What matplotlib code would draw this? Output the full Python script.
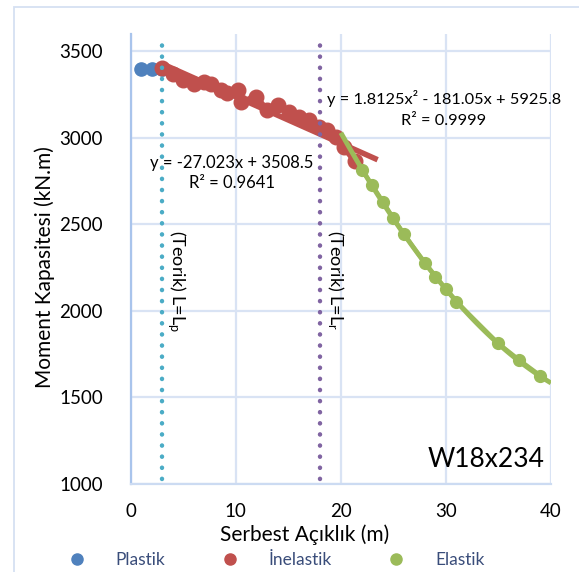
import numpy as np
import matplotlib.pyplot as plt
from matplotlib.lines import Line2D
from matplotlib.patches import Rectangle

plt.rcParams['font.family'] = ['Lato', 'DejaVu Sans']
plt.rcParams['mathtext.fontset'] = 'custom'
plt.rcParams['mathtext.rm'] = 'Lato'
plt.rcParams['mathtext.default'] = 'regular'

# Data
plastik_x = [1, 2, 3]
plastik_y = [3400, 3400, 3400]

inelastik_x = [3, 4, 5, 6, 7, 7.6, 8.6, 9.2, 10.2, 10.5, 11.9, 13, 14, 15.1,
               16, 17, 17.9, 18.7, 19.5, 20.3, 21.3]
inelastik_y = [3403, 3371, 3336, 3313, 3322, 3313, 3278, 3259, 3278, 3207, 3236,
               3159, 3188, 3149, 3120, 3101, 3062, 3043, 3004, 2946, 2869]

elastik_x = [22, 23, 24, 25, 26, 28, 29, 30, 31, 35, 37, 39]
elastik_y = [2815, 2725, 2632, 2535, 2445, 2275, 2198, 2127, 2054, 1812, 1716, 1626]

# trendlines (coefficients as printed on the chart)
lin_coef = [-27.023, 3508.5]
lin_r2 = 0.9641
lin_range = [3, 23.5]
quad_coef = [1.8125, -181.05, 5925.8]
quad_r2 = 0.9999
quad_range = [20, 40]

# theoretical lengths
Lp = 3
Lr = 18

c_blue = '#4F81BD'
c_red = '#C0504D'
c_green = '#9BBB59'
c_grid = '#D9E3F4'

fig = plt.figure(figsize=(5.79, 5.72), dpi=100)
ax = fig.add_axes([130.7/579, 1-484/572, (551-130.7)/579, (484-34)/572])

# outer chart border
fig.add_artist(Rectangle((14/579, -0.1), 2, 1.1 - 6.5/572, transform=fig.transFigure,
                         fill=False, ec='#D5E0F2', lw=1.3))

ax.plot(plastik_x, plastik_y, 'o', color=c_blue, ms=9.5, zorder=3)

ax.plot(inelastik_x, inelastik_y, '-o', color=c_red, ms=10.5, lw=4.5, zorder=3)
xl = np.linspace(lin_range[0], lin_range[1], 50)
ax.plot(xl, np.polyval(lin_coef, xl), color=c_red, lw=4, solid_capstyle='butt', zorder=4)

ax.plot(elastik_x, elastik_y, '-o', color=c_green, ms=8.5, lw=3, zorder=5)
xq = np.linspace(quad_range[0], quad_range[1], 100)
ax.plot(xq, np.polyval(quad_coef, xq), color=c_green, lw=3.5, solid_capstyle='butt', zorder=5)

# dotted theoretical lines
ax.plot([Lp, Lp], [1030, 3580], color='#4BACC6', lw=3.2, ls=(0, (0.05, 2.45)),
        dash_capstyle='round', zorder=6)
ax.plot([Lr, Lr], [1030, 3580], color='#8064A2', lw=3.2, ls=(0, (0.05, 2.45)),
        dash_capstyle='round', zorder=6)

ax.text(Lp + 1.35, 2465, '(Teorik) L=L$_p$', rotation=-90, ha='center', va='top',
        fontsize=13, zorder=7)
ax.text(Lr + 1.5, 2465, '(Teorik) L=L$_r$', rotation=-90, ha='center', va='top',
        fontsize=13, zorder=7)

ax.text(9.6, 2855, 'y = %.3fx + %.1f' % (lin_coef[0], lin_coef[1]), ha='center',
        va='center', fontsize=12, zorder=7)
ax.text(9.6, 2740, 'R² = %.4f' % lin_r2, ha='center', va='center', fontsize=12, zorder=7)
ax.text(29.8, 3225, 'y = %.4fx² - %.2fx + %.1f' % (quad_coef[0], -quad_coef[1], quad_coef[2]),
        ha='center', va='center', fontsize=11.8, zorder=7)
ax.text(29.8, 3100, 'R² = %.4f' % quad_r2, ha='center', va='center', fontsize=11.8, zorder=7)

ax.text(39.4, 1100, 'W18x234', ha='right', va='baseline', fontsize=19, zorder=7)

ax.set_xlim(0, 40)
ax.set_ylim(1000, 3600)
ax.set_xticks([0, 10, 20, 30, 40])
ax.set_yticks([1000, 1500, 2000, 2500, 3000, 3500])
ax.grid(True, color=c_grid, lw=1.6)
ax.set_axisbelow(True)
ax.tick_params(length=0, labelsize=13.5)
ax.tick_params(axis='x', pad=14)
ax.tick_params(axis='y', pad=20)
for s in ['top', 'right']:
    ax.spines[s].set_visible(False)
ax.spines['left'].set_color('#A9C4EC')
ax.spines['left'].set_linewidth(1.6)
ax.spines['bottom'].set_color('#CCDBF2')
ax.spines['bottom'].set_linewidth(1.6)

fig.text(305/579, 1-541/572, 'Serbest Açıklık (m)', ha='center', va='baseline', fontsize=15)
fig.text(45/579, 1-267/572, 'Moment Kapasitesi (kN.m)', ha='center', va='center',
         rotation=90, fontsize=15)

handles = [Line2D([], [], ls='none', marker='o', ms=8, color=c) for c in (c_blue, c_red, c_green)]
leg = fig.legend(handles, ['Plastik', 'İnelastik', 'Elastik'], loc='center left',
                 bbox_to_anchor=(68/579, 1-560/572), ncol=3, frameon=False,
                 fontsize=12.5, handlelength=1.0, handletextpad=1.75, columnspacing=3.2,
                 borderpad=0, borderaxespad=0)
for t in leg.get_texts():
    t.set_color('#3A4D7A')

fig.savefig('out.png', dpi=100)
